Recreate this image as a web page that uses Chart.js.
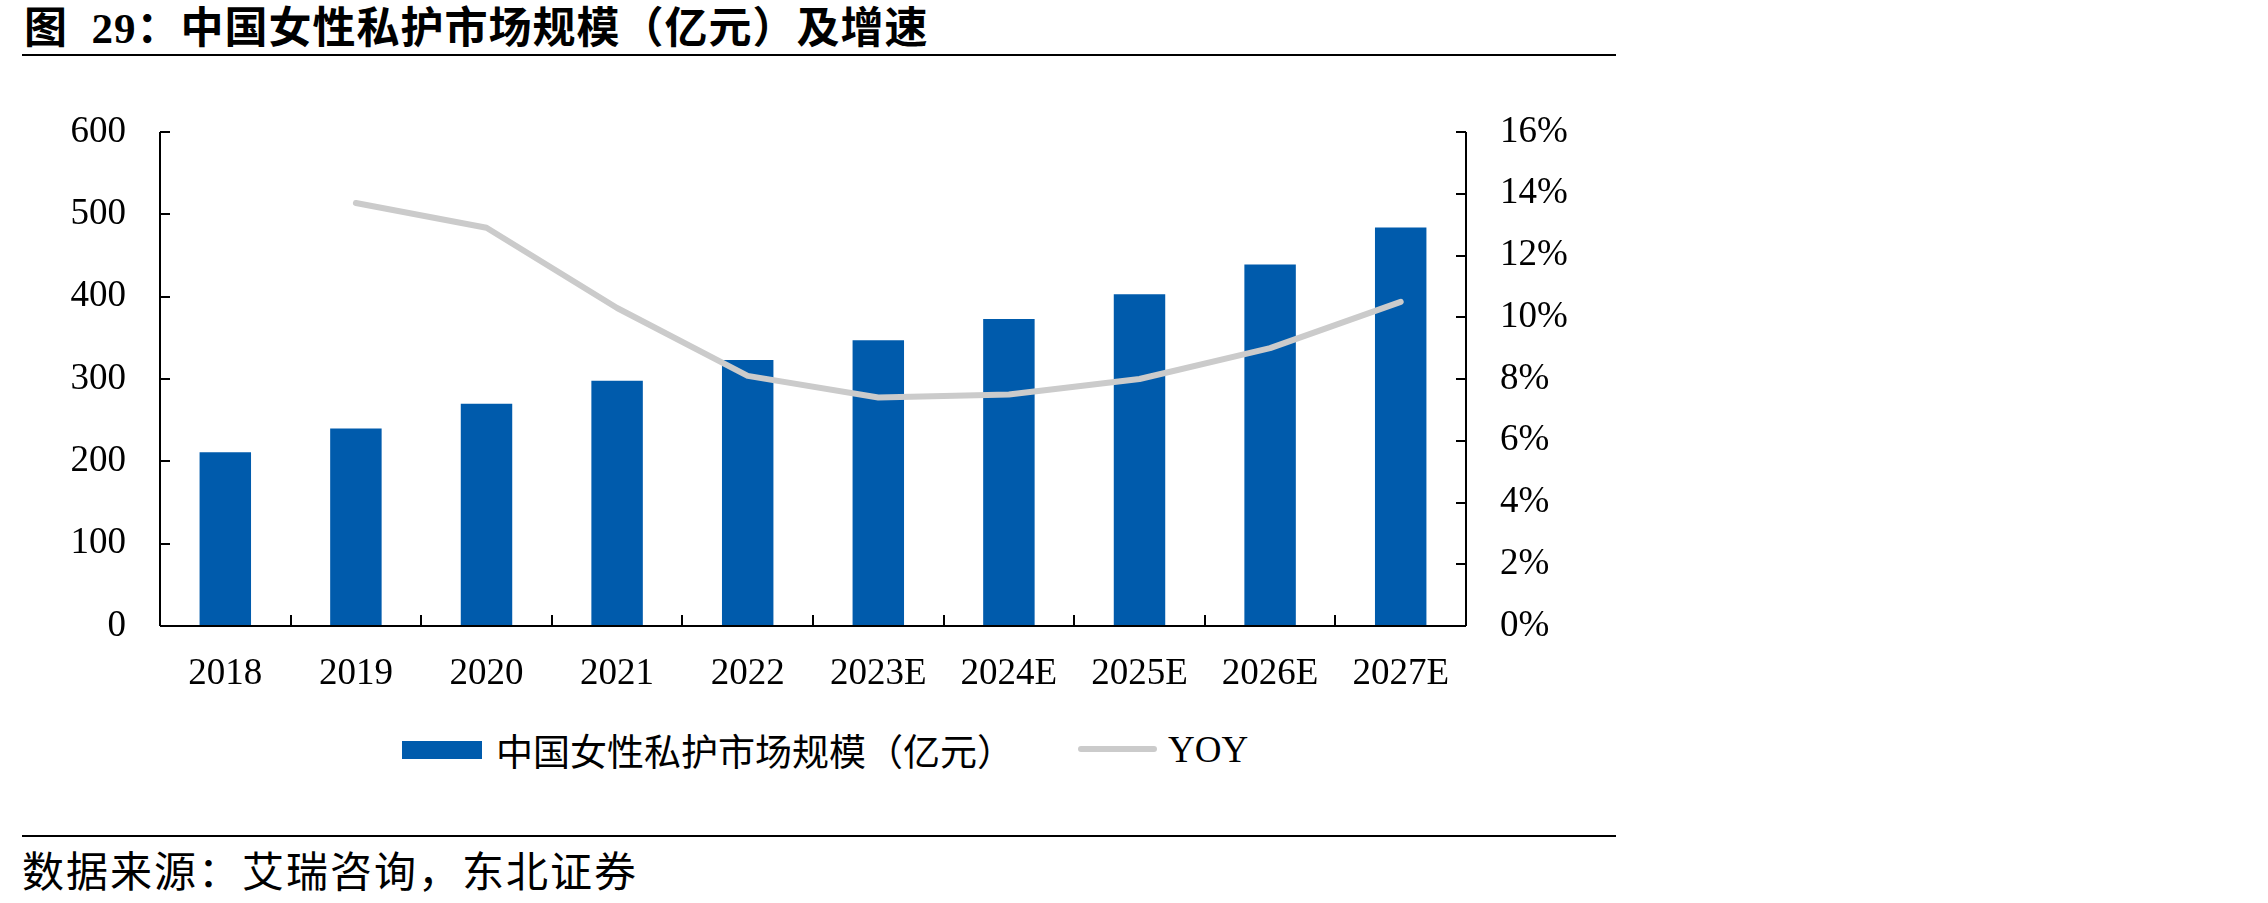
<!DOCTYPE html>
<html>
<head>
<meta charset="utf-8">
<script src="https://cdn.jsdelivr.net/npm/chart.js@4"></script>
<style>
  body { margin: 0; width: 2268px; height: 903px; background: #fff; position: relative; overflow: hidden; }
  .txt { position: absolute; white-space: nowrap; color: #000; }
  #titulo { left: 24px; top: 7px; font: bold 43px "Liberation Serif", "Noto Sans CJK SC"; line-height: 44px; letter-spacing: 1px; }
  #fonte { left: 22px; top: 847px; font: 42px "Noto Sans CJK SC"; line-height: 44px; letter-spacing: 2px; }
  .regua { position: absolute; left: 22px; width: 1594px; height: 2px; background: #000; }
  #grafico { position: absolute; left: 0; top: 0; }
  .leg-box { position: absolute; left: 402px; top: 741px; width: 80px; height: 18px; background: #005BAC; }
  .leg-line { position: absolute; left: 1078px; top: 746px; width: 79px; height: 6px; border-radius: 3px; background: #CBCBCB; }
  .leg-txt { top: 730px; font: 37px "Noto Sans CJK SC"; line-height: 40px; }
</style>
</head>
<body>
<div class="txt" id="titulo">图&nbsp; 29：中国女性私护市场规模（亿元）及增速</div>
<div class="regua" style="top:54px"></div>
<canvas id="grafico" width="1620" height="720"></canvas>
<div class="leg-box"></div>
<div class="txt leg-txt" style="left:496px">中国女性私护市场规模（亿元）</div>
<div class="leg-line"></div>
<div class="txt leg-txt" style="left:1168px; font-family:'Liberation Serif'; font-size:37px">YOY</div>
<div class="regua" style="top:835px"></div>
<div class="txt" id="fonte">数据来源：艾瑞咨询，东北证券</div>

<script>
// dados
const anos = ["2018", "2019", "2020", "2021", "2022", "2023E", "2024E", "2025E", "2026E", "2027E"];
const mercado = [211, 240, 270, 298, 323, 347, 373, 403, 439, 484];
const yoy = [null, 13.7, 12.9, 10.3, 8.1, 7.4, 7.5, 8.0, 9.0, 10.5];
const ticksEsq = [0, 100, 200, 300, 400, 500, 600];
const ticksDir = [0, 2, 4, 6, 8, 10, 12, 14, 16];

const fonteNum = { family: "Liberation Serif", size: 37 };

// eixos com marcas para dentro
const eixosPlugin = {
  id: "eixos",
  afterDraw(chart) {
    const { ctx, chartArea: a, scales } = chart;
    ctx.save();
    ctx.strokeStyle = "#000";
    ctx.lineWidth = 2;
    ctx.beginPath();
    ctx.moveTo(a.left, a.top); ctx.lineTo(a.left, a.bottom);
    ctx.moveTo(a.right, a.top); ctx.lineTo(a.right, a.bottom);
    ctx.moveTo(a.left, a.bottom); ctx.lineTo(a.right, a.bottom);
    ticksEsq.forEach(v => {
      const y = Math.round(scales.y.getPixelForValue(v));
      ctx.moveTo(a.left, y); ctx.lineTo(a.left + 10, y);
    });
    ticksDir.forEach(v => {
      const y = Math.round(scales.y1.getPixelForValue(v));
      ctx.moveTo(a.right, y); ctx.lineTo(a.right - 10, y);
    });
    for (let i = 0; i < anos.length - 1; i++) {
      const x = Math.round((scales.x.getPixelForValue(i) + scales.x.getPixelForValue(i + 1)) / 2);
      ctx.moveTo(x, a.bottom); ctx.lineTo(x, a.bottom - 11);
    }
    ctx.stroke();
    ctx.restore();
  }
};

new Chart(document.getElementById("grafico").getContext("2d"), {
  data: {
    labels: anos,
    datasets: [
      {
        type: "line",
        label: "YOY",
        data: yoy,
        yAxisID: "y1",
        borderColor: "#CBCBCB",
        borderWidth: 6,
        borderCapStyle: "round",
        borderJoinStyle: "round",
        pointRadius: 0,
        tension: 0,
        order: 0
      },
      {
        type: "bar",
        label: "中国女性私护市场规模（亿元）",
        data: mercado,
        yAxisID: "y",
        backgroundColor: "#005BAC",
        categoryPercentage: 1,
        barPercentage: 0.394,
        order: 1
      }
    ]
  },
  plugins: [eixosPlugin],
  options: {
    responsive: false,
    animation: false,
    layout: { padding: { top: 132, left: 0, right: 0, bottom: 0 } },
    plugins: { legend: { display: false }, tooltip: { enabled: false } },
    scales: {
      x: {
        grid: { display: false },
        border: { display: false },
        ticks: { color: "#000", font: fonteNum, padding: 18, maxRotation: 0 },
        afterFit: s => { s.height = 94; }
      },
      y: {
        position: "left",
        min: 0, max: 600,
        grid: { display: false, drawTicks: false },
        border: { display: false },
        ticks: { color: "#000", font: fonteNum, stepSize: 100, padding: 34 },
        afterFit: s => { s.width = 160; }
      },
      y1: {
        position: "right",
        min: 0, max: 16,
        grid: { display: false, drawTicks: false },
        border: { display: false },
        ticks: { color: "#000", font: fonteNum, stepSize: 2, padding: 34, callback: v => v + "%" },
        afterFit: s => { s.width = 154; }
      }
    }
  }
});
</script>
</body>
</html>
